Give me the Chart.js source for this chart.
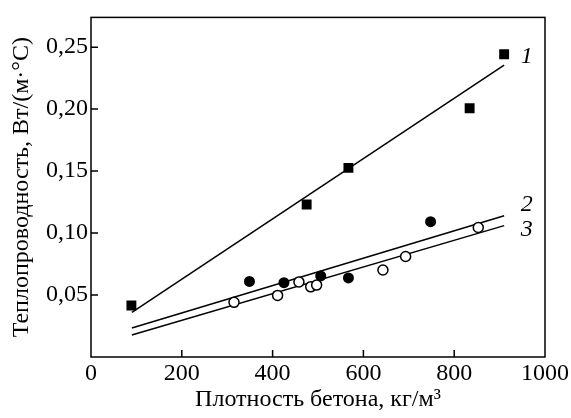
<!DOCTYPE html>
<html>
<head>
<meta charset="utf-8">
<script src="https://cdn.jsdelivr.net/npm/chart.js@4"></script>
<style>
  body { margin: 0; background: #fff; }
</style>
</head>
<body>
<canvas id="myChart" width="571" height="418"></canvas>
<script>
// values
const squareX = [89, 475, 567, 834, 910];
const squareY = [0.0415, 0.123, 0.1526, 0.2007, 0.2443];
const filledX = [349, 425, 506, 567, 748];
const filledY = [0.061, 0.060, 0.0654, 0.0638, 0.1092];
const openX = [315, 411, 458, 484, 497, 643, 693, 853];
const openY = [0.0441, 0.0497, 0.0606, 0.0566, 0.058, 0.0702, 0.0811, 0.1045];
const lineX = [90, 910];
const line1Y = [0.036, 0.2355];
const line2Y = [0.0234, 0.114];
const line3Y = [0.0178, 0.106];
const xTicks = [0, 200, 400, 600, 800, 1000];
const yTicks = [0.05, 0.10, 0.15, 0.20, 0.25];
const curveLabels = [
  { text: '1', x: 960, y: 0.2424 },
  { text: '2', x: 960, y: 0.1228 },
  { text: '3', x: 960, y: 0.1029 }
];

const pts = (xs, ys) => xs.map((x, i) => ({ x: x, y: ys[i] }));

Chart.defaults.font.family = "'Liberation Serif', 'Times New Roman', serif";
Chart.defaults.color = '#000';

const frame = {
  id: 'frame',
  afterDraw(chart) {
    const { ctx, chartArea: a, scales } = chart;
    ctx.save();
    ctx.strokeStyle = '#000';
    ctx.lineWidth = 1.5;
    ctx.strokeRect(a.left, a.top, a.right - a.left, a.bottom - a.top);
    ctx.beginPath();
    xTicks.forEach(v => {
      const px = scales.x.getPixelForValue(v);
      if (px > a.left + 1 && px < a.right - 1) {
        ctx.moveTo(px, a.bottom);
        ctx.lineTo(px, a.bottom - 7);
      }
    });
    yTicks.forEach(v => {
      const py = scales.y.getPixelForValue(v);
      ctx.moveTo(a.left, py);
      ctx.lineTo(a.left + 7, py);
    });
    ctx.stroke();
    ctx.fillStyle = '#000';
    ctx.font = "italic 24px 'Liberation Serif', serif";
    ctx.textAlign = 'center';
    ctx.textBaseline = 'middle';
    curveLabels.forEach(l => {
      ctx.fillText(l.text, scales.x.getPixelForValue(l.x), scales.y.getPixelForValue(l.y));
    });
    ctx.restore();
  }
};

new Chart(document.getElementById('myChart'), {
  type: 'scatter',
  data: {
    datasets: [
      {
        data: pts(squareX, squareY),
        pointStyle: 'rect',
        pointRadius: 7,
        backgroundColor: '#000',
        borderColor: '#000',
        borderWidth: 0
      },
      {
        data: pts(filledX, filledY),
        pointStyle: 'circle',
        pointRadius: 5.5,
        backgroundColor: '#000',
        borderColor: '#000',
        borderWidth: 0
      },
      {
        data: pts(openX, openY),
        pointStyle: 'circle',
        pointRadius: 5,
        backgroundColor: '#fff',
        borderColor: '#000',
        borderWidth: 1.5
      },
      {
        data: pts(lineX, line1Y),
        showLine: true,
        pointRadius: 0,
        borderColor: '#000',
        borderWidth: 1.5
      },
      {
        data: pts(lineX, line2Y),
        showLine: true,
        pointRadius: 0,
        borderColor: '#000',
        borderWidth: 1.5
      },
      {
        data: pts(lineX, line3Y),
        showLine: true,
        pointRadius: 0,
        borderColor: '#000',
        borderWidth: 1.5
      }
    ]
  },
  options: {
    responsive: false,
    animation: false,
    layout: { padding: { top: 13, right: 18, left: 0, bottom: 0 } },
    plugins: {
      legend: { display: false },
      tooltip: { enabled: false }
    },
    scales: {
      x: {
        min: 0,
        max: 1000,
        afterBuildTicks: s => { s.ticks = xTicks.map(v => ({ value: v })); },
        afterFit: s => { s.height = 61; },
        grid: { drawOnChartArea: false, drawTicks: false },
        border: { display: false },
        ticks: {
          padding: 2,
          maxRotation: 0,
          font: { size: 24 },
          callback: v => String(v)
        },
        title: {
          display: true,
          text: 'Плотность бетона, кг/м³',
          font: { size: 24, lineHeight: 1.0 },
          padding: { top: 0, bottom: 6 }
        }
      },
      y: {
        min: 0,
        max: 0.274,
        afterBuildTicks: s => { s.ticks = yTicks.map(v => ({ value: v })); },
        afterFit: s => { s.width = 91; },
        grid: { drawOnChartArea: false, drawTicks: false },
        border: { display: false },
        ticks: {
          padding: 3,
          font: { size: 24 },
          callback: v => v.toFixed(2).replace('.', ',')
        },
        title: {
          display: true,
          text: 'Теплопроводность, Вт/(м·°С)',
          font: { size: 24, lineHeight: 1.0 },
          padding: { top: 10, bottom: 0 }
        }
      }
    }
  },
  plugins: [frame]
});
</script>
</body>
</html>
